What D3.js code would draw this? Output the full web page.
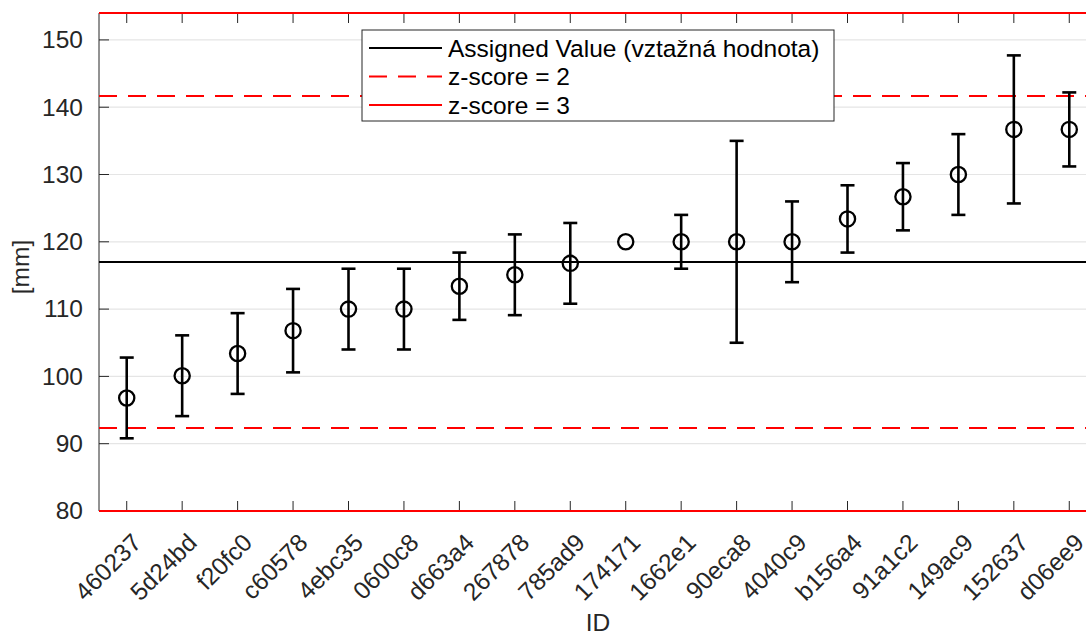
<!DOCTYPE html>
<html>
<head>
<meta charset="utf-8">
<script src="https://cdn.jsdelivr.net/npm/d3@7"></script>
<style>
  html, body { margin: 0; padding: 0; background: #fff; }
  svg { display: block; font-family: "Liberation Sans", Arial, Helvetica, sans-serif; }
</style>
</head>
<body>
<svg id="chart" width="1086" height="635"></svg>
<script>
// Participant IDs, reported means and expanded uncertainties [mm]
const ids = ["460237","5d24bd","f20fc0","c60578","4ebc35","0600c8","d663a4","267878","785ad9",
             "174171","1662e1","90eca8","4040c9","b156a4","91a1c2","149ac9","152637","d06ee9"];
const means = [96.8, 100.1, 103.4, 106.8, 110, 110, 113.4, 115.1, 116.8,
               120, 120, 120, 120, 123.4, 126.7, 130, 136.7, 136.7];
const uncert = [6, 6, 6, 6.2, 6, 6, 5, 6, 6,
                null, 4, 15, 6, 5, 5, 6, 11, 5.5];

// Assigned value and standard deviation for proficiency assessment
const assigned = 117;
const sigmaPT = 12.3333;
const yTicks = [80, 90, 100, 110, 120, 130, 140, 150];
const yDomain = [80, 154];

const legendLabels = ["Assigned Value (vztažná hodnota)", "z-score = 2", "z-score = 3"];

(function draw() {
  const svg = d3.select("#chart");
  const textColor = "#262626";
  const fs = 24.5;

  const pLeft = 99, pRight = 1097, pTop = 13, pBottom = 511;

  const x = d3.scaleLinear().domain([0.5, ids.length + 0.5]).range([pLeft, pRight]);
  const y = d3.scaleLinear().domain(yDomain).range([pBottom, pTop]);

  // horizontal grid
  svg.append("g").selectAll("line").data(yTicks).join("line")
    .attr("x1", pLeft).attr("x2", pRight)
    .attr("y1", d => y(d)).attr("y2", d => y(d))
    .attr("stroke", "#e5e5e5").attr("stroke-width", 1.2);

  // left axis line
  svg.append("line").attr("x1", pLeft).attr("x2", pLeft).attr("y1", pTop).attr("y2", pBottom)
    .attr("stroke", textColor).attr("stroke-width", 1);

  const yAxis = d3.axisLeft(y).tickValues(yTicks).tickSize(0).tickPadding(16);
  const yg = svg.append("g").attr("transform", `translate(${pLeft},0)`).call(yAxis);
  yg.select(".domain").remove();
  yg.selectAll("text").attr("font-size", fs).attr("fill", textColor)
    .attr("font-family", "Liberation Sans, Arial, sans-serif");
  // inward y ticks
  svg.append("g").selectAll("line").data(yTicks).join("line")
    .attr("x1", pLeft).attr("x2", pLeft + 10)
    .attr("y1", d => y(d)).attr("y2", d => y(d))
    .attr("stroke", textColor).attr("stroke-width", 1);

  // inward x ticks top and bottom
  const idx = ids.map((d, i) => i + 1);
  svg.append("g").selectAll("line").data(idx).join("line")
    .attr("x1", d => x(d)).attr("x2", d => x(d))
    .attr("y1", pBottom).attr("y2", pBottom - 10)
    .attr("stroke", textColor).attr("stroke-width", 1);
  svg.append("g").selectAll("line").data(idx).join("line")
    .attr("x1", d => x(d)).attr("x2", d => x(d))
    .attr("y1", pTop).attr("y2", pTop + 10)
    .attr("stroke", textColor).attr("stroke-width", 1);

  // x tick labels, rotated
  svg.append("g").selectAll("text").data(ids).join("text")
    .attr("transform", (d, i) => `translate(${x(i + 1) + 4},${pBottom + 21}) rotate(-45)`)
    .attr("text-anchor", "end")
    .attr("dy", "0.7em")
    .attr("font-size", fs).attr("fill", textColor)
    .text(d => d);

  // axis titles
  svg.append("text").attr("x", (pLeft + pRight) / 2).attr("y", 631)
    .attr("text-anchor", "middle").attr("font-size", fs).attr("fill", textColor).text("ID");
  svg.append("text").attr("transform", `translate(29,${(pTop + pBottom) / 2 + 5}) rotate(-90)`)
    .attr("text-anchor", "middle").attr("font-size", fs).attr("fill", textColor).text("[mm]");

  // z-score limits
  const zLines = [
    { v: assigned + 2 * sigmaPT, dash: "18,11" },
    { v: assigned - 2 * sigmaPT, dash: "18,11" },
    { v: assigned + 3 * sigmaPT, dash: null },
    { v: assigned - 3 * sigmaPT, dash: null }
  ];
  svg.append("g").selectAll("line").data(zLines).join("line")
    .attr("x1", pLeft).attr("x2", pRight)
    .attr("y1", d => y(d.v)).attr("y2", d => y(d.v))
    .attr("stroke", "#ff0000").attr("stroke-width", 2.2)
    .attr("stroke-dasharray", d => d.dash);

  // assigned value
  svg.append("line").attr("x1", pLeft).attr("x2", pRight)
    .attr("y1", y(assigned)).attr("y2", y(assigned))
    .attr("stroke", "#000").attr("stroke-width", 2.2);

  // error bars and markers
  const pts = ids.map((id, i) => ({ i: i + 1, m: means[i], u: uncert[i] }));
  const eb = svg.append("g").attr("stroke", "#000").attr("stroke-width", 2.6).attr("fill", "none");
  const withU = pts.filter(d => d.u != null);
  eb.selectAll("line.v").data(withU).join("line").attr("class", "v")
    .attr("x1", d => x(d.i)).attr("x2", d => x(d.i))
    .attr("y1", d => y(d.m - d.u)).attr("y2", d => y(d.m + d.u));
  eb.selectAll("line.t").data(withU).join("line").attr("class", "t")
    .attr("x1", d => x(d.i) - 7).attr("x2", d => x(d.i) + 7)
    .attr("y1", d => y(d.m + d.u)).attr("y2", d => y(d.m + d.u));
  eb.selectAll("line.b").data(withU).join("line").attr("class", "b")
    .attr("x1", d => x(d.i) - 7).attr("x2", d => x(d.i) + 7)
    .attr("y1", d => y(d.m - d.u)).attr("y2", d => y(d.m - d.u));
  eb.selectAll("circle").data(pts).join("circle")
    .attr("cx", d => x(d.i)).attr("cy", d => y(d.m)).attr("r", 7.6)
    .attr("stroke-width", 2.3);

  // legend
  const lg = svg.append("g");
  lg.append("rect").attr("x", 362).attr("y", 30).attr("width", 472).attr("height", 91)
    .attr("fill", "#fff").attr("stroke", textColor).attr("stroke-width", 1);
  const legItems = [
    { label: legendLabels[0], color: "#000", dash: null },
    { label: legendLabels[1], color: "#ff0000", dash: "18,11" },
    { label: legendLabels[2], color: "#ff0000", dash: null }
  ];
  legItems.forEach((d, k) => {
    const cy = 48 + k * 28.5;
    lg.append("line").attr("x1", 369).attr("x2", 442).attr("y1", cy).attr("y2", cy)
      .attr("stroke", d.color).attr("stroke-width", 2.2).attr("stroke-dasharray", d.dash);
    lg.append("text").attr("x", 448).attr("y", cy + 8.5).attr("font-size", fs)
      .attr("fill", "#000").text(d.label);
  });
})();
</script>
</body>
</html>
